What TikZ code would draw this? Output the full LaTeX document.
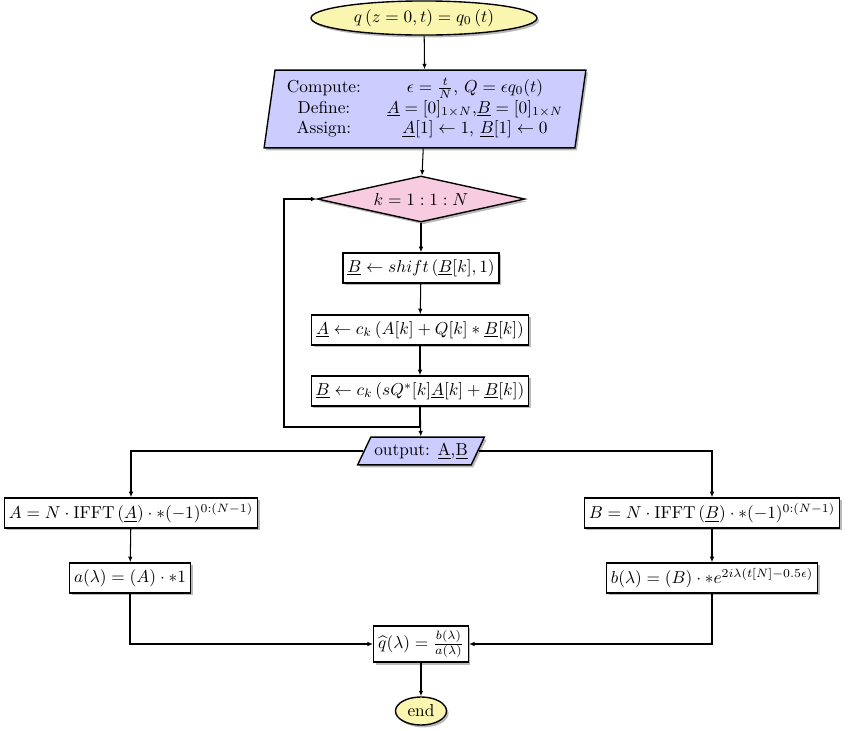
\documentclass[tikz,border=0pt]{standalone}
\usetikzlibrary{shapes.geometric,shadows,arrows.meta}
\definecolor{startyellow}{RGB}{250,245,175}
\definecolor{ioblue}{RGB}{204,204,255}
\definecolor{decpink}{RGB}{248,204,224}
\tikzset{
  px/.style={x=0.578pt,y=-0.578pt},
  shad/.style={drop shadow={shadow xshift=1.2pt,shadow yshift=-1.4pt,opacity=0.45,fill=black!60}},
  term/.style={ellipse,draw,thick,fill=startyellow,shad,inner sep=1pt},
  iobox/.style={trapezium,draw,thick,fill=ioblue,shad,trapezium stretches body},
  decide/.style={diamond,draw,thick,fill=decpink,shad,inner sep=0pt,aspect=4.5,minimum width=120pt,minimum height=26.6pt},
  procbox/.style={rectangle,draw,thick,fill=white,shad,inner sep=2.6pt,minimum height=17.4pt},
  arr/.style={semithick,-{Latex[length=3.2pt,width=2.6pt]}}
}
\begin{document}
\begin{tikzpicture}[px]
\useasboundingbox (0,0) rectangle (850,730);
\node[term,minimum width=130.6pt,minimum height=19.7pt] (start) at (424,18) {$q\left(z=0,t\right)=q_0\left(t\right)$};
\node[iobox,trapezium left angle=81,trapezium right angle=99,minimum width=186pt,minimum height=45pt,inner sep=2pt] (init) at (425,109)
 {\begin{tabular}{@{}c@{\hspace{1.5em}}c@{}}
 Compute: & $\epsilon=\frac{t}{N}$, $Q=\epsilon q_0(t)$\\
 Define: & $\underline{A}=[0]_{1\times N}$,$\underline{B}=[0]_{1\times N}$\\
 Assign: & $\underline{A}[1]\leftarrow 1$, $\underline{B}[1]\leftarrow 0$
 \end{tabular}};
\node[decide] (loop) at (421,199) {$k=1:1:N$};
\node[procbox] (b1) at (421,268) {$\underline{B}\leftarrow shift\left(\underline{B}[k],1\right)$};
\node[procbox] (b2) at (420,330) {$\underline{A}\leftarrow c_k\left(A[k]+Q[k]*\underline{B}[k]\right)$};
\node[procbox] (b3) at (420,391) {$\underline{B}\leftarrow c_k\left(sQ^{*}[k]\underline{A}[k]+\underline{B}[k]\right)$};
\node[iobox,trapezium left angle=60,trapezium right angle=120,minimum height=16pt,inner sep=2pt] (out) at (421,451) {output: \underline{A},\underline{B}};
\node[procbox] (A) at (131,513) {$A=N\cdot\mathrm{IFFT}\left(\underline{A}\right)\cdot*(-1)^{0:(N-1)}$};
\node[procbox] (a) at (130,578) {$a(\lambda)=(A)\cdot*1$};
\node[procbox] (B) at (712,513) {$B=N\cdot\mathrm{IFFT}\left(\underline{B}\right)\cdot*(-1)^{0:(N-1)}$};
\node[procbox] (b) at (712,578) {$b(\lambda)=(B)\cdot*e^{2i\lambda(t[N]-0.5\epsilon)}$};
\node[procbox,minimum height=21pt] (qh) at (421,644) {$\widehat{q}(\lambda)=\frac{b(\lambda)}{a(\lambda)}$};
\node[term,minimum width=29.5pt,minimum height=16.2pt] (end) at (421,711) {end};
\coordinate (lpc) at (284,427);
\draw[arr] (start) -- (init);
\draw[arr] (init) -- (loop);
\draw[arr] (loop) -- (b1);
\draw[arr] (b1) -- (b2);
\draw[arr] (b2) -- (b3);
\draw[arr] (b3) -- (out);
\draw[arr] (b3.south) |- (lpc) |- (loop.west);
\draw[arr] (out.west) -| (A.north);
\draw[arr] (out.east) -| (B.north);
\draw[arr] (A) -- (a);
\draw[arr] (B) -- (b);
\draw[arr] (a.south) |- (qh.west);
\draw[arr] (b.south) |- (qh.east);
\draw[arr] (qh) -- (end);
\end{tikzpicture}
\end{document}
